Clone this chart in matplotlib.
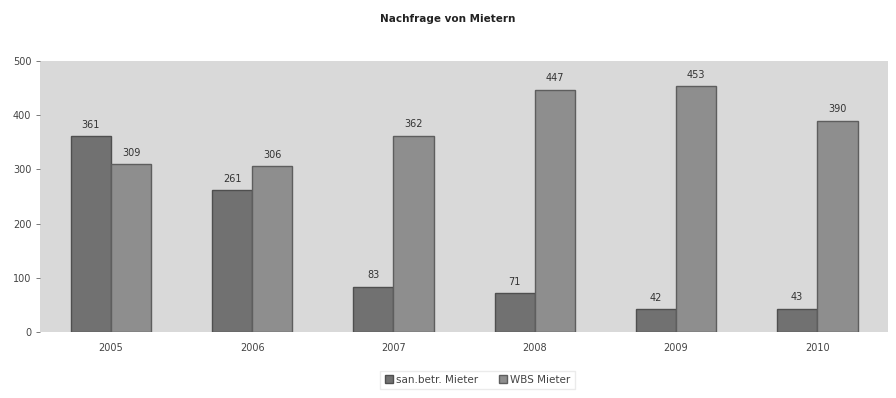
import numpy as np
import matplotlib.pyplot as plt

# Nachfrage je Jahr
jahre = ['2005', '2006', '2007', '2008', '2009', '2010']
san_betr = [361, 261, 83, 71, 42, 43]
wbs = [309, 306, 362, 447, 453, 390]

fig = plt.figure(figsize=(8.96, 3.98), dpi=100)
ax = fig.add_axes([0.045, 0.166, 0.946, 0.681])
ax.set_facecolor('#d9d9d9')

x = np.arange(len(jahre))
w = 0.285
b1 = ax.bar(x - w / 2, san_betr, w, color='#717171', edgecolor='#4f4f4f', linewidth=1.0, label='san.betr. Mieter')
b2 = ax.bar(x + w / 2, wbs, w, color='#8e8e8e', edgecolor='#5e5e5e', linewidth=1.0, label='WBS Mieter')

for bars in (b1, b2):
    for r in bars:
        ax.text(r.get_x() + r.get_width() / 2, r.get_height() + 12, f'{int(r.get_height())}',
                ha='center', va='bottom', fontsize=7, color='#333333')

ax.set_xlim(-0.5, len(jahre) - 0.5)
ax.set_ylim(0, 500)
ax.set_yticks(range(0, 501, 100))
ax.set_xticks(x)
ax.set_xticklabels(jahre)
ax.tick_params(axis='both', labelsize=7, colors='#444444', length=3, width=0.5)
ax.tick_params(axis='x', length=0, pad=8)
for s in ax.spines.values():
    s.set_visible(False)

fig.text(0.5, 0.952, 'Nachfrage von Mietern', ha='center', va='center', fontsize=7.5, fontweight='bold', color='#222222')

leg = fig.legend(loc='center', bbox_to_anchor=(0.533, 0.045), ncol=2, fontsize=7.5, frameon=True,
                 fancybox=False, edgecolor='#e6e6e6', handlelength=0.8, handleheight=0.8,
                 handletextpad=0.3, columnspacing=2.0)
for t in leg.get_texts():
    t.set_color('#444444')

fig.savefig('out.png', dpi=100)
